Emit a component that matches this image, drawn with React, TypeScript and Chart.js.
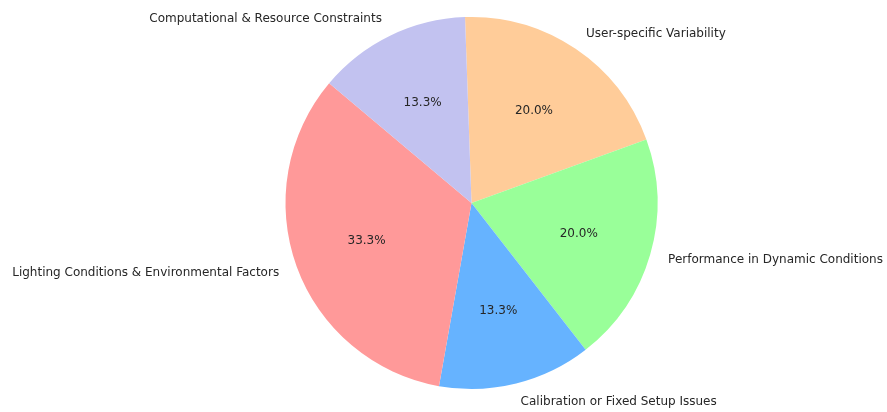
import React, { useEffect, useRef } from "react";
import { Chart, registerables } from "chart.js";

Chart.register(...registerables);

// Clockwise order starting from the top
const categories = [
  "User-specific Variability",
  "Performance in Dynamic Conditions",
  "Calibration or Fixed Setup Issues",
  "Lighting Conditions & Environmental Factors",
  "Computational & Resource Constraints",
];
const shares = [20.0, 20.0, 13.3, 33.3, 13.3];
const colors = ["#ffcc99", "#99ff99", "#66b3ff", "#ff9999", "#c2c2f0"];

const FONT = "12px 'DejaVu Sans', sans-serif";

const labelPlugin = {
  id: "pieLabels",
  afterDatasetsDraw(chart: any) {
    const ctx = chart.ctx;
    const meta = chart.getDatasetMeta(0);
    const data = chart.data.datasets[0].data as number[];
    const total = data.reduce((a, b) => a + b, 0);
    ctx.save();
    ctx.font = FONT;
    ctx.fillStyle = "#262626";
    ctx.textBaseline = "middle";
    meta.data.forEach((arc: any, i: number) => {
      const { x, y, startAngle, endAngle, outerRadius } = arc.getProps(
        ["x", "y", "startAngle", "endAngle", "outerRadius"],
        true
      );
      const mid = (startAngle + endAngle) / 2;
      const c = Math.cos(mid);
      const s = Math.sin(mid);
      // outer category label
      ctx.textAlign = c > 0 ? "left" : "right";
      ctx.fillText(
        chart.data.labels[i],
        x + 1.1 * outerRadius * c,
        y + 1.1 * outerRadius * s
      );
      // percentage label
      ctx.textAlign = "center";
      ctx.fillText(
        ((data[i] / total) * 100).toFixed(1) + "%",
        x + 0.6 * outerRadius * c,
        y + 0.6 * outerRadius * s
      );
    });
    ctx.restore();
  },
};

export default function App() {
  const ref = useRef<HTMLCanvasElement>(null);
  useEffect(() => {
    if (!ref.current) return;
    const chart = new Chart(ref.current, {
      type: "pie",
      data: {
        labels: categories,
        datasets: [
          {
            data: shares,
            backgroundColor: colors,
            borderWidth: 0,
            hoverOffset: 0,
          },
        ],
      },
      options: {
        animation: false,
        responsive: false,
        rotation: -2,
        layout: { padding: { top: 17, bottom: 23, left: 285.5, right: 229.5 } },
        plugins: {
          legend: { display: false },
          tooltip: { enabled: false },
        },
      },
      plugins: [labelPlugin],
    });
    return () => chart.destroy();
  }, []);
  return (
    <div style={{ position: "fixed", left: 0, top: 0, width: 887, height: 412, background: "#fff" }}>
      <canvas ref={ref} width={887} height={412} style={{ width: 887, height: 412 }} />
    </div>
  );
}
